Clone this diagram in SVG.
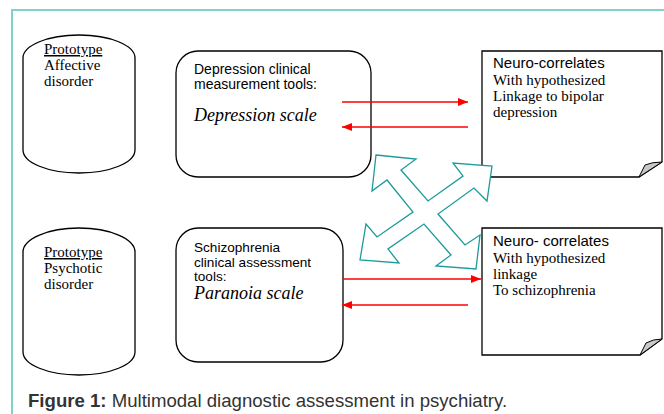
<svg xmlns="http://www.w3.org/2000/svg" width="664" height="414" viewBox="0 0 664 414">
<defs>
<style>
.shape{fill:#fff;stroke:#000;stroke-width:1.3}
.sans{font-family:"Liberation Sans",Arial,sans-serif;font-size:14px;fill:#000}
.sans13{font-family:"Liberation Sans",Arial,sans-serif;font-size:13.6px;fill:#000}
.sans15{font-family:"Liberation Sans",Arial,sans-serif;font-size:15px;fill:#000}
.serif{font-family:"Liberation Serif","Times New Roman",serif;font-size:15px;fill:#000}
.ital{font-family:"Liberation Serif","Times New Roman",serif;font-size:18px;font-style:italic;fill:#000}
.red{stroke:#ff0000;stroke-width:1.5;fill:none;marker-end:url(#ah)}
.fold{fill:#c8c8c8;stroke:#000;stroke-width:1}
.frame{stroke:#7fd4c9;stroke-width:2;fill:none}
</style>
<marker id="ah" markerWidth="10" markerHeight="8" refX="10" refY="4" orient="auto" markerUnits="userSpaceOnUse">
<path d="M0,0 L10,4 L0,8 Z" fill="#ff0000"/>
</marker>
</defs>
<rect width="664" height="414" fill="#fff"/>
<path class="frame" d="M12,414 V10 H664"/>

<g id="cyl1">
<path class="shape" d="M23,58 A56,23 0 0 1 135,58 L135,150 A56,23 0 0 1 23,150 Z"/>
<text class="serif" x="44" y="54" text-decoration="underline">Prototype</text>
<text class="serif" x="44" y="70">Affective</text>
<text class="serif" x="44" y="86">disorder</text>
</g>

<g id="cyl2">
<path class="shape" d="M23,252 A56,24 0 0 1 135,252 L135,352 A56,23 0 0 1 23,352 Z"/>
<text class="serif" x="44" y="257" text-decoration="underline">Prototype</text>
<text class="serif" x="44" y="273">Psychotic</text>
<text class="serif" x="44" y="289">disorder</text>
</g>

<g id="dep">
<rect class="shape" x="176" y="51" width="195" height="126" rx="22" ry="22"/>
<text class="sans" x="194" y="74">Depression clinical</text>
<text class="sans" x="194" y="89">measurement tools:</text>
<text class="ital" x="194" y="121">Depression scale</text>
</g>

<g id="schiz">
<rect class="shape" x="176" y="228" width="167" height="134" rx="22" ry="22"/>
<text class="sans13" x="194" y="252">Schizophrenia</text>
<text class="sans13" x="194" y="266.5">clinical assessment</text>
<text class="sans13" x="194" y="281">tools:</text>
<text class="ital" x="194" y="299">Paranoia scale</text>
</g>

<g id="neuro1">
<path class="shape" d="M482,51 H662 V162 L639,177 H482 Z"/>
<path class="fold" d="M639,177 L645,165 Q652,162 662,162 Z"/>
<text class="sans15" x="493" y="68">Neuro-correlates</text>
<text class="serif" x="493" y="85">With hypothesized</text>
<text class="serif" x="493" y="101">Linkage to bipolar</text>
<text class="serif" x="493" y="117">depression</text>
</g>

<g id="neuro2">
<path class="shape" d="M482,228 H662 V339 L640,355 H482 Z"/>
<path class="fold" d="M640,355 L646,343 Q653,339 662,339 Z"/>
<text class="sans15" x="493" y="246">Neuro- correlates</text>
<text class="serif" x="493" y="263">With hypothesized</text>
<text class="serif" x="493" y="279">linkage</text>
<text class="serif" x="493" y="295">To schizophrenia</text>
</g>

<g id="connectors">
<line class="red" x1="342" y1="102" x2="468" y2="102"/>
<line class="red" x1="468" y1="127" x2="342" y2="127"/>
<line class="red" x1="343" y1="279" x2="481" y2="279"/>
<line class="red" x1="468" y1="305" x2="342" y2="305"/>
</g>

<g id="quad-arrow">
<path fill="#fff" stroke="#1e9a9a" stroke-width="1.3" stroke-linejoin="miter" d="M376,155 L416,159 L401,170 L428,201 L463,176 L453,163 L492,166 L487,201 L474,188 L438,214 L465,245 L480,235 L476,269 L436,266 L451,255 L424,224 L388,249 L399,263 L360,260 L366,224 L377,237 L413,212 L387,180 L372,191 Z"/>
</g>

<g id="caption">
<text x="28" y="407" font-family="'Liberation Sans',Arial,sans-serif" font-size="18.6" fill="#333"><tspan font-weight="bold">Figure 1:</tspan> Multimodal diagnostic assessment in psychiatry.</text>
</g>
</svg>
